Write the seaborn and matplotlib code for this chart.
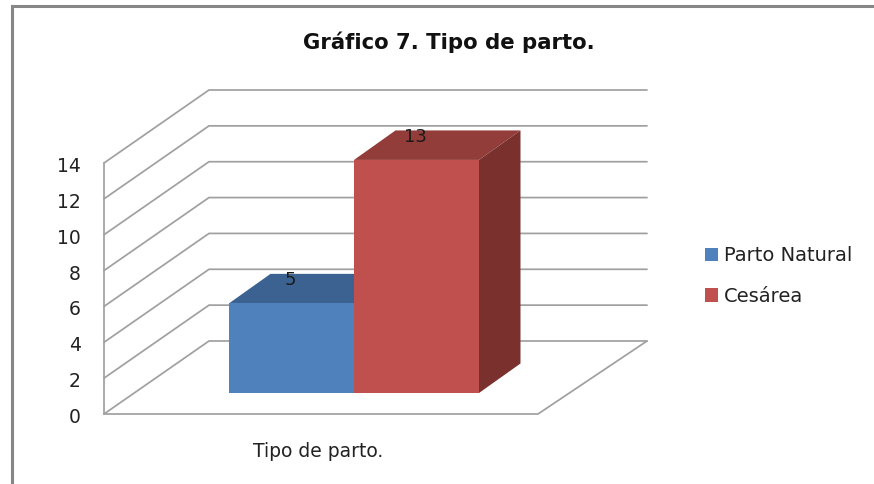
import matplotlib
matplotlib.use("Agg")
import matplotlib.pyplot as plt
from matplotlib.lines import Line2D
from matplotlib.patches import Polygon, Rectangle
from matplotlib.transforms import Affine2D, ScaledTranslation
import pandas as pd
import seaborn as sns

# ---- data ----
title = "Gráfico 7. Tipo de parto."
category = ["Tipo de parto.", "Tipo de parto."]
series = ["Parto Natural", "Cesárea"]
values = [5, 13]
y_ticks = [0, 2, 4, 6, 8, 10, 12, 14]

front_colors = ["#4F81BD", "#C0504D"]
top_colors = ["#3C6291", "#933D3A"]
side_colors = ["#2F4E74", "#7A312E"]
grid_color = "#A0A0A0"
text_color = "#222222"

W, H = 874, 484
sns.set_theme(style="white")
plt.rcParams["font.family"] = ["DejaVu Sans"]

fig = plt.figure(figsize=(W / 100, H / 100), dpi=100, facecolor="white")
L, R, B, T = 104, 538, 414, 163
ax = fig.add_axes([L / W, 1 - B / H, (R - L) / W, (B - T) / H])
ax.patch.set_alpha(0)

df = pd.DataFrame({"cat": category, "serie": series, "valor": values})
sns.barplot(data=df, x="cat", y="valor", hue="serie", hue_order=series,
            palette=front_colors, width=0.576, gap=0, dodge=True, ax=ax,
            legend=False, errorbar=None, saturation=1, zorder=3)
ax.set_xlim(-0.5, 0.5)
ax.set_ylim(0, 14)
ax.set_xlabel("")
ax.set_ylabel("")
ax.set_yticks(y_ticks)
for s in ax.spines.values():
    s.set_visible(False)
ax.tick_params(axis="y", length=0, pad=16, labelsize=13.5, labelcolor=text_color)
ax.tick_params(axis="x", length=0, pad=20, labelsize=13.5, labelcolor=text_color)
for lab in ax.get_xticklabels():
    lab.set_transform(lab.get_transform() + ScaledTranslation(-3 / 100, 0, fig.dpi_scale_trans))
for lab in ax.get_yticklabels():
    lab.set_transform(lab.get_transform() + ScaledTranslation(-1 / 100, -1.5 / 100, fig.dpi_scale_trans))

# conversions from pixel geometry of the pseudo-3D projection to data units
px_x = 1 / (R - L)
px_y = 14 / (B - T)
wall_dx, wall_dy = 105 * px_x, 73 * px_y      # depth of the chart box
wall_rx = 109 * px_x                          # right edge of the back wall
bar_sx, bar_sy = 33 * px_x, 21 * px_y         # how far bars sit behind the front
bar_dx, bar_dy = 41.5 * px_x, 29.5 * px_y     # depth of each bar

# walls and gridlines
line_kw = dict(color=grid_color, lw=1.25, clip_on=False, zorder=1, solid_joinstyle="miter")
x0, x1 = ax.get_xlim()
for v in y_ticks:
    ax.plot([x0, x0 + wall_dx, x1 + wall_rx], [v, v + wall_dy, v + wall_dy], **line_kw)
ax.plot([x0, x0], [0, 14], **line_kw)
ax.plot([x0, x1, x1 + wall_rx], [0, 0, wall_dy], **line_kw)

# extruded bars, built from the bars seaborn drew
bars = [p for p in ax.patches if isinstance(p, Rectangle)]
bars = sorted(bars, key=lambda p: p.get_x())
shift = Affine2D().translate(bar_sx, bar_sy) + ax.transData
for i, bar in enumerate(bars):
    bar.set_transform(shift)
    bar.set_clip_on(False)
    bar.set_linewidth(0)
    bar.set_zorder(3 + i * 0.1)
    xa, w, h = bar.get_x(), bar.get_width(), bar.get_height()
    top = Polygon([(xa, h), (xa + bar_dx, h + bar_dy), (xa + w + bar_dx, h + bar_dy), (xa + w, h)],
                  closed=True, fc=top_colors[i], ec="none", transform=shift,
                  clip_on=False, zorder=2.9 + i * 0.1)
    side = Polygon([(xa + w, 0), (xa + w + bar_dx, bar_dy), (xa + w + bar_dx, h + bar_dy), (xa + w, h)],
                   closed=True, fc=side_colors[i], ec="none", transform=shift,
                   clip_on=False, zorder=2.9 + i * 0.1)
    ax.add_patch(top)
    ax.add_patch(side)
    ax.text(xa + w / 2 - 1 * px_x, h + 23 * px_y, str(values[i]), transform=shift, ha="center", va="center",
            fontsize=13, color="#1a1a1a", zorder=5, clip_on=False)

# legend
handles = [Rectangle((0, 0), 1, 1, fc=c, ec="none") for c in front_colors]
fig.legend(handles, series, loc="center left", bbox_to_anchor=(699 / W, 1 - 276 / H),
           frameon=False, fontsize=14, labelcolor=text_color, handlelength=0.67, handleheight=0.67,
           handletextpad=0.3, labelspacing=1.12, borderpad=0.3, borderaxespad=0)

# title
fig.text(448.5 / W, 1 - 42 / H, title, ha="center", va="center", fontsize=15.3,
         fontweight="bold", color="#111111")

# outer frame of the chart
fig.add_artist(Line2D([11.8 / W, 11.8 / W, 1], [0, 1 - 6 / H, 1 - 6 / H],
                      color="#868686", lw=2.2, solid_joinstyle="miter"))

fig.savefig("out.png", dpi=100, facecolor="white")
